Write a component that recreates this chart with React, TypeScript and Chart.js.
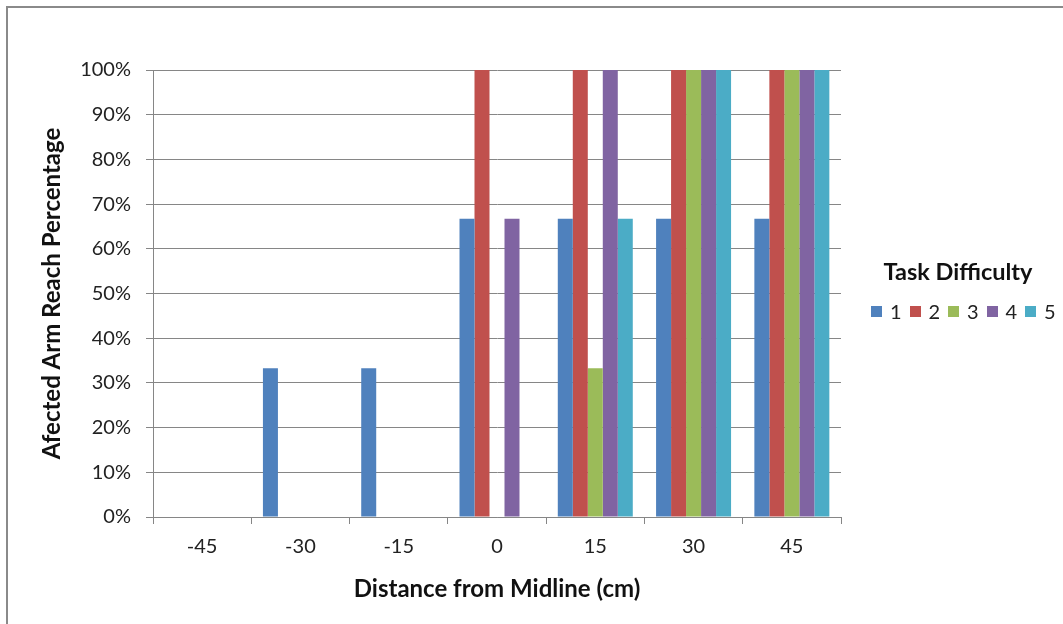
import React, { useEffect, useRef } from "react";
import { Chart, registerables } from "chart.js";

Chart.register(...registerables);

const categories = ["-45", "-30", "-15", "0", "15", "30", "45"];
const seriesNames = ["1", "2", "3", "4", "5"];
const difficulty1 = [0, 33.3, 33.3, 66.7, 66.7, 66.7, 66.7];
const difficulty2 = [0, 0, 0, 100, 100, 100, 100];
const difficulty3 = [0, 0, 0, 0, 33.3, 100, 100];
const difficulty4 = [0, 0, 0, 66.7, 100, 100, 100];
const difficulty5 = [0, 0, 0, 0, 66.7, 100, 100];
const seriesValues = [difficulty1, difficulty2, difficulty3, difficulty4, difficulty5];
const colors = ["#4F81BD", "#C0504D", "#9BBB59", "#8064A2", "#4BACC6"];

const FONT = "Lato, 'Liberation Sans', sans-serif";
const GRID = "#868686";

export default function App() {
  const ref = useRef<HTMLCanvasElement | null>(null);

  useEffect(() => {
    if (!ref.current) return;
    const chart = new Chart(ref.current, {
      type: "bar",
      data: {
        labels: categories,
        datasets: seriesValues.map((vals, i) => ({
          label: seriesNames[i],
          data: vals,
          backgroundColor: colors[i],
          borderWidth: 0,
          categoryPercentage: 0.763,
          barPercentage: 1,
        })),
      },
      options: {
        responsive: false,
        animation: false,
        devicePixelRatio: 1,
        layout: { padding: { left: 34, top: 70, right: 222, bottom: 16 } },
        plugins: {
          legend: { display: false },
          tooltip: { enabled: false },
        },
        scales: {
          x: {
            afterFit: (scale: any) => {
              scale.height = 91;
            },
            grid: {
              display: true,
              offset: true,
              drawOnChartArea: false,
              drawTicks: true,
              tickLength: 7,
              color: GRID,
            },
            border: { display: true, color: GRID, width: 1 },
            ticks: {
              color: "#222",
              font: { family: FONT, size: 20 },
              padding: 11,
              maxRotation: 0,
            },
            title: {
              display: true,
              text: "Distance from Midline (cm)",
              color: "#111",
              font: { family: FONT, size: 24, weight: "bold" },
              padding: { top: 4, bottom: 4 },
            },
          },
          y: {
            min: 0,
            max: 100,
            afterFit: (scale: any) => {
              scale.width = 119;
            },
            grid: {
              display: true,
              drawTicks: true,
              tickLength: 7,
              color: GRID,
            },
            border: { display: true, color: GRID, width: 1 },
            ticks: {
              stepSize: 10,
              color: "#222",
              font: { family: FONT, size: 20 },
              padding: 15,
              callback: (v: any) => v + "%",
            },
            title: {
              display: true,
              text: "Afected Arm Reach Percentage",
              color: "#111",
              font: { family: FONT, size: 24, weight: "bold" },
              padding: { top: 4, bottom: 4 },
            },
          },
        },
      },
    });
    return () => chart.destroy();
  }, []);

  return (
    <div>
      <div
        style={{
          position: "fixed",
          left: 6,
          top: 6,
          width: 1200,
          height: 800,
          borderLeft: "2px solid #8a8a8a",
          borderTop: "2px solid #8a8a8a",
        }}
      />
      <canvas
        ref={ref}
        width={1063}
        height={624}
        style={{ position: "fixed", left: 0, top: 0, width: 1063, height: 624 }}
      />
      <div
        style={{
          position: "fixed",
          left: 858,
          top: 256,
          width: 200,
          textAlign: "center",
          fontFamily: FONT,
          fontWeight: "bold",
          fontSize: 23.5,
          color: "#111",
          lineHeight: "30px",
        }}
      >
        Task Difficulty
      </div>
      <div
        style={{
          position: "fixed",
          left: 871,
          top: 298,
          display: "flex",
          alignItems: "center",
          fontFamily: FONT,
          fontSize: 20,
          color: "#222",
          lineHeight: "26px",
        }}
      >
        {seriesNames.map((n, i) => (
          <div key={n} style={{ display: "flex", alignItems: "center", width: 38.5 }}>
            <span
              style={{
                display: "inline-block",
                width: 11,
                height: 11,
                background: colors[i],
                marginRight: 8,
              }}
            />
            <span>{n}</span>
          </div>
        ))}
      </div>
    </div>
  );
}
